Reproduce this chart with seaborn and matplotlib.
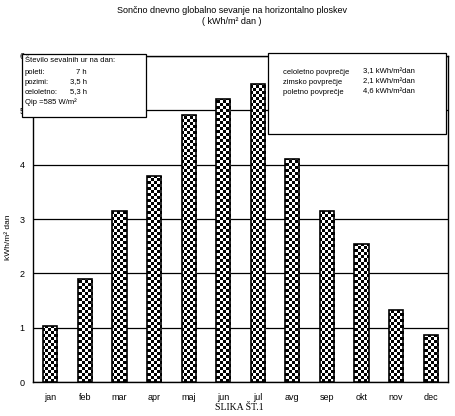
import numpy as np
import matplotlib
matplotlib.use("Agg")
import matplotlib.pyplot as plt
import seaborn as sns
from matplotlib.patches import Rectangle

# Data
months = ["jan", "feb", "mar", "apr", "maj", "jun", "jul", "avg", "sep", "okt", "nov", "dec"]
radiation = [1.04, 1.89, 3.14, 3.80, 4.91, 5.20, 5.49, 4.10, 3.14, 2.54, 1.32, 0.86]
y_ticks = [0, 1, 2, 3, 4, 5, 6]

hours_lines = ["Število sevalnih ur na dan:", "poleti:", "pozimi:", "celoletno:", "Qip =585 W/m²"]
hours_values = ["", "7 h", "3,5 h", "5,3 h", ""]
avg_labels = ["celoletno povprečje", "zimsko povprečje", "poletno povprečje"]
avg_values = ["3,1 kWh/m²dan", "2,1 kWh/m²dan", "4,6 kWh/m²dan"]

sns.set_style("white")
plt.rcParams["font.family"] = ["Liberation Sans", "DejaVu Sans"]
plt.rcParams["text.color"] = "black"
plt.rcParams["xtick.color"] = "black"
plt.rcParams["ytick.color"] = "black"

fig = plt.figure(figsize=(4.55, 4.16), dpi=100)
ax = fig.add_axes([0.0725, 0.0817, 0.9121, 0.7837])

sns.barplot(x=months, y=radiation, color="white", edgecolor="black",
            linewidth=1.2, width=0.41, saturation=1, ax=ax, zorder=3)

ax.set_xlim(-0.5, 11.5)
ax.set_ylim(0, 6)

# checkerboard fill for each bar (3 px cells)
ncols, nrows = 138, 109
checker = (np.add.outer(np.arange(nrows), np.arange(ncols)) % 2).astype(float)
for bar in ax.patches:
    bar.set_facecolor("none")
    img = ax.imshow(checker, cmap="gray", extent=(-0.5, 11.5, 0, 6), aspect="auto",
                    interpolation="nearest", zorder=2.5)
    img.set_clip_path(bar)
ax.set_xlim(-0.5, 11.5)
ax.set_ylim(0, 6)

# gridlines and frame
ax.set_yticks(y_ticks)
ax.yaxis.grid(True, color="black", linewidth=0.9, zorder=1)
ax.set_axisbelow(True)
for s in ax.spines.values():
    s.set_visible(True)
    s.set_color("black")
    s.set_linewidth(1.0)

ax.set_xticks(range(len(months)))
ax.set_xticklabels(months, fontsize=6.5)
ax.set_xticks(np.arange(-0.5, 12, 1), minor=True)
ax.tick_params(axis="x", which="major", length=0, pad=8)
ax.tick_params(axis="x", which="minor", length=4, width=0.8, color="black", direction="out")
ax.tick_params(axis="y", length=3, width=0.8, color="black", direction="out", labelsize=6.5, pad=3)
ax.set_xlabel("")
ax.set_ylabel("")

# titles and axis labels
fig.text(0.51, 0.985, "Sončno dnevno globalno sevanje na horizontalno ploskev",
         ha="center", va="top", fontsize=6.5)
fig.text(0.51, 0.958, "( kWh/m² dan )", ha="center", va="top", fontsize=6.5)
fig.text(0.018, 0.43, "kWh/m² dan", rotation=90, ha="center", va="center", fontsize=6)
fig.text(0.527, 0.02, "SLIKA ŠT.1", ha="center", va="center", fontsize=7,
         family=["Liberation Serif"])

# left info box
fig.patches.append(Rectangle((0.0484, 0.7188), 0.2725, 0.1514, transform=fig.transFigure,
                             facecolor="white", edgecolor="black", linewidth=0.9, zorder=5))
line_y = [61, 72, 82, 92, 102]
for txt, val, yp in zip(hours_lines, hours_values, line_y):
    fig.text(25 / 455, 1 - yp / 416, txt, ha="left", va="center", fontsize=5.5, zorder=6)
    if val:
        fig.text(87 / 455, 1 - yp / 416, val, ha="right", va="center", fontsize=5.5, zorder=6)

# right info box
fig.patches.append(Rectangle((0.589, 0.678), 0.391, 0.1947, transform=fig.transFigure,
                             facecolor="white", edgecolor="black", linewidth=0.9, zorder=5))
for i, (lab, val) in enumerate(zip(avg_labels, avg_values)):
    yp = 72 + i * 10
    fig.text(283 / 455, 1 - yp / 416, lab, ha="left", va="center", fontsize=5.5, zorder=6)
    fig.text(363 / 455, 1 - yp / 416, val, ha="left", va="center", fontsize=5.5, zorder=6)

fig.savefig("out.png", dpi=100)
